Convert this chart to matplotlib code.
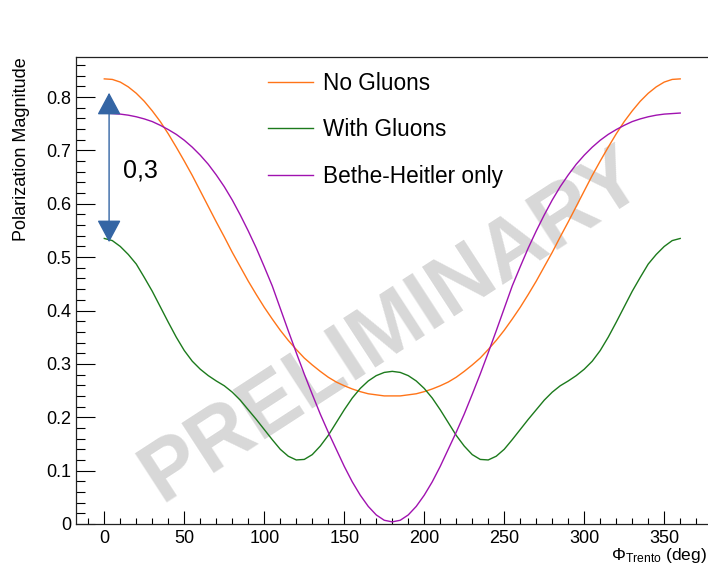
import numpy as np
import matplotlib
matplotlib.use("Agg")
import matplotlib.pyplot as plt
from matplotlib.ticker import MultipleLocator, FuncFormatter

plt.rcParams['font.family'] = ['Liberation Sans', 'DejaVu Sans']
plt.rcParams['mathtext.fontset'] = 'custom'
plt.rcParams['mathtext.rm'] = 'Liberation Sans'
plt.rcParams['mathtext.it'] = 'Liberation Sans:italic'

# phi_Trento grid (deg)
phi = np.arange(0, 361, 5)

no_gluons = [0.834, 0.833, 0.828, 0.819, 0.807, 0.792, 0.774, 0.754, 0.731, 0.706,
             0.680, 0.653, 0.624, 0.595, 0.566, 0.538, 0.509, 0.482, 0.455, 0.430,
             0.406, 0.384, 0.363, 0.344, 0.327, 0.311, 0.298, 0.286, 0.275, 0.266,
             0.259, 0.253, 0.248, 0.244, 0.242, 0.240, 0.240,
             0.240, 0.242, 0.244, 0.248, 0.253, 0.259, 0.266, 0.275, 0.286, 0.298,
             0.311, 0.327, 0.344, 0.363, 0.384, 0.406, 0.430, 0.455, 0.482, 0.509,
             0.538, 0.566, 0.595, 0.624, 0.653, 0.680, 0.706, 0.731, 0.754, 0.774,
             0.792, 0.807, 0.819, 0.828, 0.833, 0.834]

with_gluons = [0.535, 0.531, 0.520, 0.505, 0.487, 0.462, 0.436, 0.407, 0.378, 0.350,
               0.325, 0.305, 0.290, 0.278, 0.268, 0.259, 0.247, 0.232, 0.214, 0.196,
               0.177, 0.158, 0.140, 0.127, 0.120, 0.121, 0.130, 0.146, 0.166, 0.190,
               0.214, 0.236, 0.254, 0.268, 0.278, 0.284, 0.286,
               0.284, 0.278, 0.268, 0.254, 0.236, 0.214, 0.190, 0.166, 0.146, 0.130,
               0.121, 0.120, 0.127, 0.140, 0.158, 0.177, 0.196, 0.214, 0.232, 0.247,
               0.259, 0.268, 0.278, 0.290, 0.305, 0.325, 0.350, 0.378, 0.407, 0.436,
               0.462, 0.487, 0.505, 0.520, 0.531, 0.535]

bethe_heitler = [0.770, 0.769, 0.768, 0.766, 0.763, 0.759, 0.754, 0.747, 0.739, 0.730,
                 0.719, 0.706, 0.691, 0.674, 0.654, 0.632, 0.607, 0.579, 0.549, 0.517,
                 0.482, 0.446, 0.404, 0.362, 0.321, 0.281, 0.243, 0.206, 0.172, 0.140,
                 0.108, 0.079, 0.054, 0.033, 0.017, 0.007, 0.004,
                 0.007, 0.017, 0.033, 0.054, 0.079, 0.108, 0.140, 0.172, 0.206, 0.243,
                 0.281, 0.321, 0.362, 0.404, 0.446, 0.482, 0.517, 0.549, 0.579, 0.607,
                 0.632, 0.654, 0.674, 0.691, 0.706, 0.719, 0.730, 0.739, 0.747, 0.754,
                 0.759, 0.763, 0.766, 0.768, 0.769, 0.770]

labels = ['No Gluons', 'With Gluons', 'Bethe-Heitler only']
colors = ['#ff7418', '#1c7a1c', '#a012b0']

# arrow annotation (difference shown on the plot)
arrow_x = 3.0
arrow_top = 0.808
arrow_bottom = 0.528
arrow_text = '0,3'

W, H = 708, 565
fig = plt.figure(figsize=(W / 100, H / 100), dpi=100)
ax = fig.add_axes([75.5 / W, (H - 524) / H, (709 - 75.5) / W, (524 - 57) / H])

# watermark
ax.text(180, 0.37, 'PRELIMINARY', rotation=33, rotation_mode='anchor',
        ha='center', va='center', fontsize=61, fontweight='bold',
        color='#d8d8d8', zorder=0.5)

for ys, lab, c in zip([no_gluons, with_gluons, bethe_heitler], labels, colors):
    ax.plot(phi, ys, color=c, lw=1.0, label=lab, zorder=2)

ax.annotate('', xy=(arrow_x, arrow_top), xytext=(arrow_x, arrow_bottom),
            arrowprops=dict(arrowstyle='<|-|>,head_length=14,head_width=7.5',
                            color='#3465a4', lw=1.0, shrinkA=0, shrinkB=0,
                            mutation_scale=1), zorder=3)
ax.text(11.5, 0.663, arrow_text, fontsize=18, ha='left', va='center')

ax.set_xlim(-18, 378)
ax.set_ylim(0, 0.875)

ax.xaxis.set_major_locator(MultipleLocator(50))
ax.xaxis.set_minor_locator(MultipleLocator(10))
ax.yaxis.set_major_locator(MultipleLocator(0.1))
ax.yaxis.set_minor_locator(MultipleLocator(0.02))
ax.yaxis.set_major_formatter(FuncFormatter(lambda v, p: '0' if abs(v) < 1e-9 else f'{v:.1f}'))

ax.tick_params(axis='x', which='major', direction='in', length=9.5, width=0.8, labelsize=13, pad=4)
ax.tick_params(axis='x', which='minor', direction='in', length=4.5, width=0.8)
ax.tick_params(axis='y', which='major', direction='in', length=14, width=0.8, labelsize=13, pad=3)
ax.tick_params(axis='y', which='minor', direction='in', length=6.5, width=0.8)

ax.spines['right'].set_visible(False)
for s in ['left', 'bottom', 'top']:
    ax.spines[s].set_linewidth(0.9)
    ax.spines[s].set_color('#222222')

fig.text(22 / W, 1 - 57 / H, 'Polarization Magnitude', rotation=90,
         ha='center', va='top', fontsize=13)
fig.text(707 / W, 1 - 560 / H, r'$\Phi_{\mathrm{Trento}}$ (deg)',
         ha='right', va='baseline', fontsize=12.5)

ax.legend(loc='upper left', bbox_to_anchor=(268 / W, 1 - 72 / H),
          bbox_transform=fig.transFigure, frameon=False, fontsize=16.3,
          handlelength=2.0, handletextpad=0.45, labelspacing=1.03,
          borderpad=0, borderaxespad=0)

fig.savefig('out.png', dpi=100)
